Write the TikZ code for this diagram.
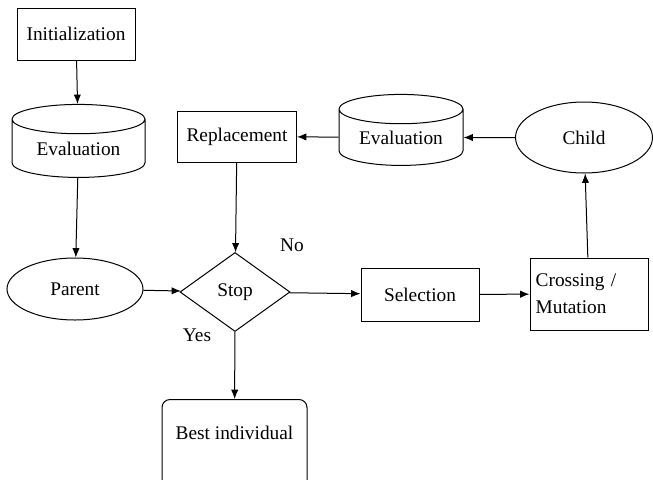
\documentclass[tikz,border=0pt]{standalone}
\usepackage{fontspec}
\setmainfont{Liberation Serif}
\usetikzlibrary{shapes.geometric,arrows.meta}

\begin{document}
\begin{tikzpicture}[>={Latex[length=7pt,width=5.5pt]},x=0.75pt,y=-0.75pt,line width=0.75pt,
	every node/.style={font=\fontsize{14.5}{20}\selectfont,inner sep=0pt},
	box/.style={draw,rectangle},
	drum/.style={draw,cylinder,shape border rotate=90,aspect=0.35},
	oval/.style={draw,ellipse},
	test/.style={draw,diamond}]
	\useasboundingbox (0,0) rectangle (653,479);
	% left column
	\node[box,minimum width=88.5pt,minimum height=39pt] (init) at (76,34) {Initialization};
	\node[drum,minimum width=99.75pt,minimum height=54.75pt] (eval1) at (78.5,148.5) {Evaluation};
	\node[oval,minimum width=102pt,minimum height=46.5pt] (parent) at (75,289) {Parent};
	% middle
	\node[test,minimum width=82.5pt,minimum height=59.25pt] (stop) at (235,292) {Stop};
	\node[box,minimum width=89.25pt,minimum height=38.25pt] (repl) at (237,136.5) {Replacement};
	\node[drum,minimum width=93pt,minimum height=53.25pt] (eval2) at (401,137.5) {Evaluation};
	\node[draw,rounded corners=6pt,minimum width=108.75pt,text height=30pt,text depth=42pt,anchor=north] (best) at (234.5,399) {Best individual};
	% right
	\node[oval,minimum width=102.75pt,minimum height=53.25pt] (child) at (584,137.5) {Child};
	\node[box,minimum width=88.5pt,minimum height=54pt,align=left,text width=80pt] (cross) at (589,294) {Crossing /\\Mutation};
	\node[box,minimum width=88.5pt,minimum height=39.75pt] (sel) at (420,294.5) {Selection};
	% labels
	\node (no) at (292,245) {No};
	\node (yes) at (197,335) {Yes};
	% arrows
	\draw[->] (init) -- (eval1);
	\draw[->] (eval1) -- (parent);
	\draw[->] (parent) -- (stop);
	\draw[->] (repl) -- (stop);
	\draw[->] (stop) -- (best);
	\draw[->] (stop) -- (sel);
	\draw[->] (sel) -- (cross);
	\draw[->] (cross) -- (child);
	\draw[->] (child) -- (eval2);
	\draw[->] (eval2) -- (repl);
\end{tikzpicture}
\end{document}
